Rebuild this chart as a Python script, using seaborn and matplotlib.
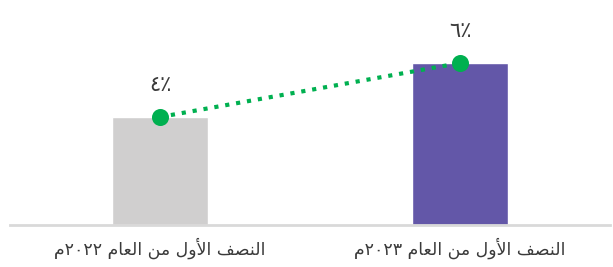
import matplotlib
matplotlib.use("Agg")
import matplotlib.pyplot as plt
import seaborn as sns
import pandas as pd

# data
periods = ["النصف الأول من العام ٢٠٢٢م", "النصف الأول من العام ٢٠٢٣م"]
shares = [4, 6]
value_labels = ["٤٪", "٦٪"]
bar_colors = ["#d0cfcf", "#6357a8"]

# --- tiny arabic shaping (matplotlib does no shaping / bidi) ---
FORMS = {
    "ا": ("\ufe8d", "\ufe8e", None, None),
    "أ": ("\ufe83", "\ufe84", None, None),
    "و": ("\ufeed", "\ufeee", None, None),
    "ل": ("\ufedd", "\ufede", "\ufedf", "\ufee0"),
    "ن": ("\ufee5", "\ufee6", "\ufee7", "\ufee8"),
    "ص": ("\ufeb9", "\ufeba", "\ufebb", "\ufebc"),
    "ف": ("\ufed1", "\ufed2", "\ufed3", "\ufed4"),
    "م": ("\ufee1", "\ufee2", "\ufee3", "\ufee4"),
    "ع": ("\ufec9", "\ufeca", "\ufecb", "\ufecc"),
}
LAM_ALEF = {"ا": ("\ufefb", "\ufefc"), "أ": ("\ufef7", "\ufef8")}


def dual(c):
    return c in FORMS and FORMS[c][2] is not None


def shape(s):
    out = []
    i = 0
    while i < len(s):
        c = s[i]
        if c not in FORMS:
            out.append(c)
            i += 1
            continue
        prev = s[i - 1] if i > 0 else ""
        nxt = s[i + 1] if i + 1 < len(s) else ""
        join_prev = dual(prev)
        if c == "ل" and nxt in LAM_ALEF:
            out.append(LAM_ALEF[nxt][1 if join_prev else 0])
            i += 2
            continue
        join_next = dual(c) and nxt in FORMS
        iso, fin, ini, med = FORMS[c]
        if join_prev and join_next:
            out.append(med)
        elif join_prev:
            out.append(fin)
        elif join_next:
            out.append(ini)
        else:
            out.append(iso)
        i += 1
    # visual order: reverse, but keep digit runs left-to-right
    runs, cur, cur_digit = [], "", None
    for ch in out:
        d = "\u0660" <= ch <= "\u0669"
        if cur and d != cur_digit:
            runs.append((cur, cur_digit))
            cur = ""
        cur += ch
        cur_digit = d
    if cur:
        runs.append((cur, cur_digit))
    return "".join(r if d else r[::-1] for r, d in runs[::-1])


df = pd.DataFrame({"period": periods, "share": shares})

sns.set_style("white")
plt.rcParams["font.family"] = ["DejaVu Sans"]

fig = plt.figure(figsize=(6.13, 2.67), dpi=100)
ax = fig.add_axes([10 / 613, 42 / 267, 600 / 613, 225 / 267])

sns.barplot(data=df, x="period", y="share", hue="period", palette=bar_colors,
            width=0.32, legend=False, ax=ax, saturation=1)
sns.pointplot(data=df, x="period", y="share", color="#00b050", linestyles=":",
              markers="o", markersize=10, linewidth=3, ax=ax, errorbar=None)

for i, (v, lab) in enumerate(zip(shares, value_labels)):
    ax.text(i, v + 0.8, lab, ha="center", va="bottom", fontsize=15, color="#3a3a3a")

ax.set_xlim(-0.5, 1.5)
ax.set_ylim(0, 225 / 27)
ax.set_xticks([0, 1])
ax.set_xticklabels([shape(p) for p in periods], fontsize=12.5, color="#3a3a3a")
ax.tick_params(axis="x", length=0, pad=9)
ax.set_yticks([])
ax.set_xlabel("")
ax.set_ylabel("")
for side in ["top", "left", "right"]:
    ax.spines[side].set_visible(False)
ax.spines["bottom"].set_color("#d9d9d9")
ax.spines["bottom"].set_linewidth(2)

plt.savefig("out.png", dpi=100)
